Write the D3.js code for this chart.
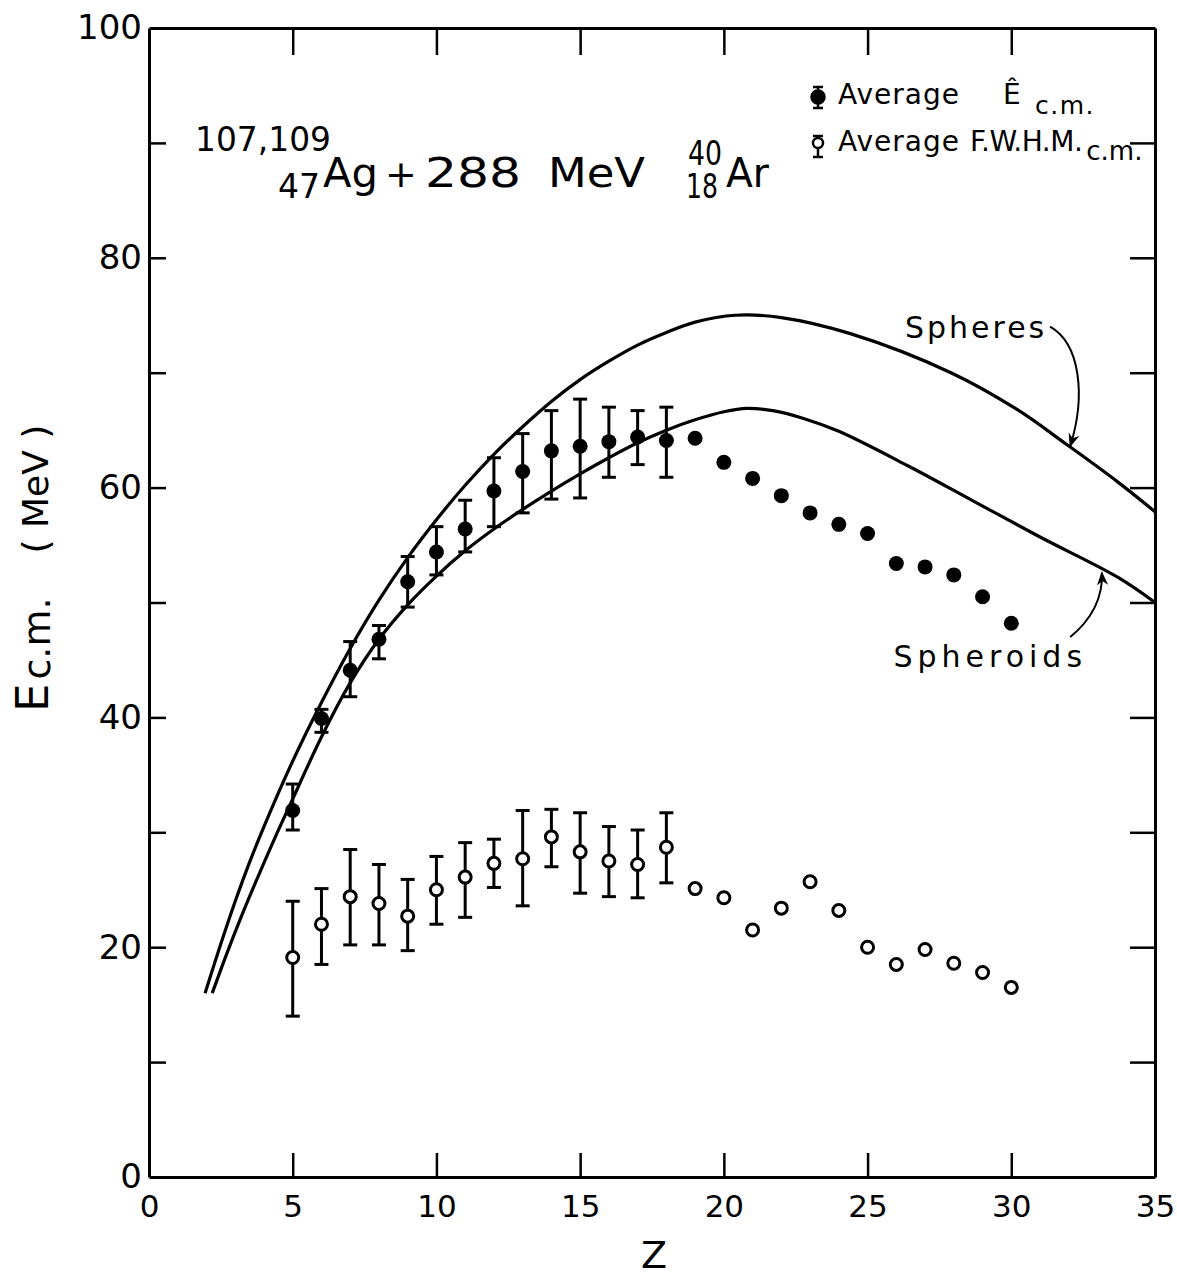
<!DOCTYPE html>
<html>
<head>
<meta charset="utf-8">
<script src="https://cdn.jsdelivr.net/npm/d3@7"></script>
<style>
  body { margin: 0; background: #fff; }
  svg text { font-family: "DejaVu Sans", sans-serif; fill: #000; }
</style>
</head>
<body>
<svg id="chart" width="1177" height="1278"></svg>
<script>
// data
var Z = [5,6,7,8,9,10,11,12,13,14,15,16,17,18,19,20,21,22,23,24,25,26,27,28,29,30];
var eAvg = [31.9,39.9,44.1,46.8,51.8,54.4,56.4,59.7,61.4,63.2,63.6,64.0,64.4,64.1,64.3,62.2,60.8,59.3,57.8,56.8,56.0,53.4,53.1,52.4,50.5,48.2];
var eAvgHi = [34.2,40.7,46.6,48.0,54.0,56.6,58.9,62.6,64.7,66.7,67.7,67.0,66.7,67.0];
var eAvgLo = [30.2,38.7,41.8,45.1,49.6,52.4,54.4,56.6,57.8,59.0,59.1,60.9,62.0,60.9];
var fwhm = [19.1,22.0,24.4,23.8,22.7,25.0,26.1,27.3,27.7,29.6,28.3,27.5,27.2,28.7,25.1,24.3,21.5,23.4,25.7,23.2,20.0,18.5,19.8,18.6,17.8,16.5];
var fwhmHi = [24.0,25.1,28.5,27.2,25.9,27.9,29.1,29.4,31.9,32.0,31.7,30.5,30.2,31.7];
var fwhmLo = [14.0,18.5,20.2,20.2,19.7,22.0,22.6,25.2,23.6,27.0,24.7,24.4,24.3,25.6];

var spheresZ = [1.95,2.5,3.0,3.5,4.0,5,6,7,8,9,10,11,12,13,14,15,16,17,18,19,20.4,22.0,24.4,27.9,30.2,31.9,33.7,35.0];
var spheresE = [16.0,20.3,24.0,27.4,30.5,36.2,41.3,46.0,50.2,53.9,57.2,60.2,62.9,65.3,67.5,69.4,71.0,72.4,73.5,74.4,75.0,74.8,73.4,70.0,66.8,63.8,60.5,57.9];
var spheroidsZ = [2.2,2.7,3.2,3.7,4.45,5,6,7,8,9,10,11,12,13,14,15,16,17,18,19,20,20.8,21.7,22.8,24.0,26.4,28.7,31.0,33.7,35.0];
var spheroidsE = [16.0,19.4,22.6,25.6,29.9,32.9,38.3,43.0,46.8,49.8,52.3,54.5,56.4,58.1,59.7,61.2,62.6,63.9,65.0,65.9,66.6,66.9,66.7,66.0,64.9,61.9,58.8,55.7,52.2,50.0];

var xTicks = [0,5,10,15,20,25,30,35];
var yTicks = [0,10,20,30,40,50,60,70,80,90,100];

var svg = d3.select("#chart");
var pLeft = 149, pRight = 1155, pTop = 28, pBottom = 1177;

var x = d3.scaleLinear().domain([0, 35]).range([pLeft, pRight]);
var y = d3.scaleLinear().domain([0, 100]).range([pBottom, pTop]);

//--- axes (ticks point inward)
function styleAxis(g) {
  g.selectAll("path.domain").attr("stroke", "#000").attr("stroke-width", 3);
  g.selectAll(".tick line").attr("stroke", "#000").attr("stroke-width", 2.5);
}

svg.append("g")
  .attr("transform", "translate(0," + pBottom + ")")
  .call(d3.axisBottom(x).tickValues(xTicks).tickSize(-24).tickSizeOuter(0).tickPadding(18))
  .call(styleAxis)
  .selectAll("text").attr("font-size", 31).attr("font-family", "DejaVu Sans").attr("fill", "#000");

svg.append("g")
  .attr("transform", "translate(0," + pTop + ")")
  .call(d3.axisTop(x).tickValues(xTicks).tickSize(-27).tickSizeOuter(0).tickFormat(""))
  .call(styleAxis);

svg.append("g")
  .attr("transform", "translate(" + pLeft + ",0)")
  .call(d3.axisLeft(y).tickValues(yTicks).tickSize(-17).tickSizeOuter(0).tickPadding(7)
    .tickFormat(function(d) { return d % 20 === 0 ? d : ""; }))
  .call(styleAxis)
  .selectAll("text").attr("font-size", 34).attr("font-family", "DejaVu Sans").attr("fill", "#000");

svg.append("g")
  .attr("transform", "translate(" + pRight + ",0)")
  .call(d3.axisRight(y).tickValues(yTicks).tickSize(-25).tickSizeOuter(0).tickFormat(""))
  .call(styleAxis);

svg.selectAll(".tick line").filter(function(d) { return d === 0 || d === 35 || d === 100; }).remove();

// axis titles
svg.append("text")
  .attr("x", 654).attr("y", 1268)
  .attr("text-anchor", "middle")
  .attr("font-size", 38)
  .text("Z");

var yl = svg.append("text")
  .attr("transform", "translate(48,712) rotate(-90)");
yl.append("tspan").attr("font-size", 45).text("E");
yl.append("tspan").attr("font-size", 38).attr("dx", 4).attr("dy", 2).text("c.m.");
yl.append("tspan").attr("font-size", 36).attr("dx", 44).attr("dy", -2).text("( MeV )");

//--- theory curves
var line = d3.line()
  .x(function(d) { return x(d[0]); })
  .y(function(d) { return y(d[1]); })
  .curve(d3.curveCatmullRom.alpha(0.5));

[[spheresZ, spheresE], [spheroidsZ, spheroidsE]].forEach(function(s) {
  svg.append("path")
    .datum(d3.zip(s[0], s[1]))
    .attr("d", line)
    .attr("fill", "none")
    .attr("stroke", "#000")
    .attr("stroke-width", 3.2);
});

//--- error bars
function errorBars(hi, lo) {
  var g = svg.append("g").attr("stroke", "#000").attr("stroke-width", 3);
  hi.forEach(function(h, i) {
    var cx = x(Z[i]);
    g.append("line").attr("x1", cx).attr("x2", cx).attr("y1", y(h)).attr("y2", y(lo[i]));
    g.append("line").attr("x1", cx - 7).attr("x2", cx + 7).attr("y1", y(h)).attr("y2", y(h));
    g.append("line").attr("x1", cx - 7).attr("x2", cx + 7).attr("y1", y(lo[i])).attr("y2", y(lo[i]));
  });
}
errorBars(eAvgHi, eAvgLo);
errorBars(fwhmHi, fwhmLo);

svg.append("g").selectAll("circle")
  .data(d3.zip(Z, eAvg))
  .enter().append("circle")
  .attr("cx", function(d) { return x(d[0]); })
  .attr("cy", function(d) { return y(d[1]); })
  .attr("r", 7.5)
  .attr("fill", "#000");

svg.append("g").selectAll("circle")
  .data(d3.zip(Z, fwhm))
  .enter().append("circle")
  .attr("cx", function(d) { return x(d[0]); })
  .attr("cy", function(d) { return y(d[1]); })
  .attr("r", 6)
  .attr("fill", "#fff")
  .attr("stroke", "#000")
  .attr("stroke-width", 3);

//--- reaction label
function label(txt, px, py, size, len) {
  var t = svg.append("text").attr("x", px).attr("y", py).attr("font-size", size).text(txt);
  if (len) t.attr("textLength", len).attr("lengthAdjust", "spacingAndGlyphs");
  return t;
}
label("107,109", 195, 151, 34, 136);
label("47", 278, 198, 34, 42);
label("Ag", 323, 187, 40, 55);
label("+", 401, 187, 38).attr("text-anchor", "middle");
label("288", 425, 187, 40, 96);
label("MeV", 548, 187, 40, 97);
label("40", 688, 165, 34, 34);
label("18", 686, 198, 34, 32);
label("Ar", 726, 187, 40, 43);

//--- legend
var lg = svg.append("g").attr("stroke", "#000").attr("stroke-width", 2.5);
lg.append("line").attr("x1", 818).attr("x2", 818).attr("y1", 87).attr("y2", 108);
lg.append("line").attr("x1", 813).attr("x2", 823).attr("y1", 87).attr("y2", 87);
lg.append("line").attr("x1", 813).attr("x2", 823).attr("y1", 108).attr("y2", 108);
lg.append("circle").attr("cx", 818).attr("cy", 97).attr("r", 6.5).attr("fill", "#000");
lg.append("line").attr("x1", 818).attr("x2", 818).attr("y1", 136).attr("y2", 157);
lg.append("line").attr("x1", 813).attr("x2", 823).attr("y1", 136).attr("y2", 136);
lg.append("line").attr("x1", 813).attr("x2", 823).attr("y1", 157).attr("y2", 157);
lg.append("circle").attr("cx", 818).attr("cy", 143).attr("r", 5).attr("fill", "#fff");

svg.append("text").attr("x", 838).attr("y", 104).attr("font-size", 28).attr("letter-spacing", 1).text("Average");
svg.append("text").attr("x", 1003).attr("y", 104).attr("font-size", 28).text("\u00CA");
svg.append("text").attr("x", 1035).attr("y", 114).attr("font-size", 25).attr("letter-spacing", 1.5).text("c.m.");
var l2 = svg.append("text").attr("x", 838).attr("y", 151).attr("font-size", 28);
l2.append("tspan").attr("letter-spacing", 1).text("Average ");
l2.append("tspan").attr("letter-spacing", -0.5).text("F.W.H.M.");
l2.append("tspan").attr("font-size", 26).attr("dx", 4).attr("dy", 9).text("c.m.");

//--- curve labels with arrows
svg.append("defs").append("marker")
  .attr("id", "head").attr("viewBox", "0 0 10 10")
  .attr("refX", 9).attr("refY", 5)
  .attr("markerWidth", 14).attr("markerHeight", 14)
  .attr("markerUnits", "userSpaceOnUse")
  .attr("orient", "auto")
  .append("path").attr("d", "M0,1 L10,5 L0,9 L3,5 Z").attr("fill", "#000");

svg.append("text").attr("x", x(26.3)).attr("y", y(73.0)).attr("font-size", 30).attr("letter-spacing", 3).text("Spheres");
svg.append("text").attr("x", x(25.9)).attr("y", y(44.4)).attr("font-size", 30).attr("letter-spacing", 5).text("Spheroids");

var p1 = d3.path();
p1.moveTo(x(31.35), y(74.0));
p1.bezierCurveTo(x(32.4), y(72.5), x(32.6), y(68.0), x(32.05), y(63.6));
var p2 = d3.path();
p2.moveTo(x(32.05), y(47.0));
p2.bezierCurveTo(x(32.8), y(48.5), x(33.2), y(50.5), x(33.15), y(52.6));

[p1, p2].forEach(function(p) {
  svg.append("path").attr("d", p.toString())
    .attr("fill", "none").attr("stroke", "#000").attr("stroke-width", 2)
    .attr("marker-end", "url(#head)");
});
</script>
</body>
</html>
